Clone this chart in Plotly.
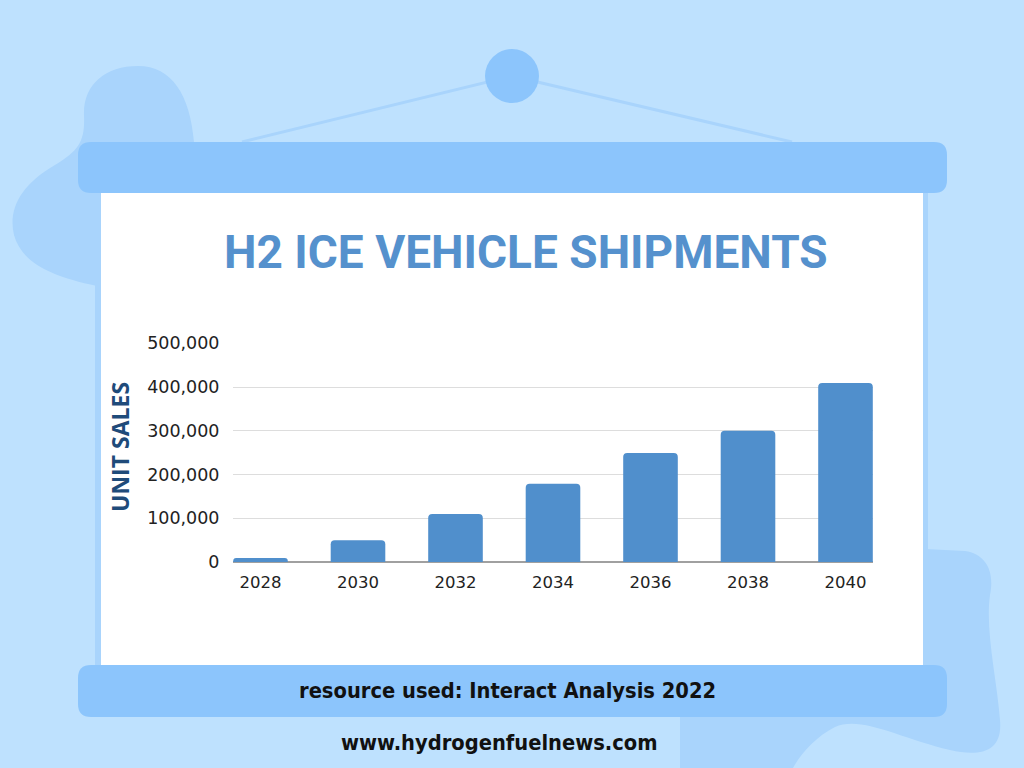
import plotly.graph_objects as go

# ---- data ----
years = ["2028", "2030", "2032", "2034", "2036", "2038", "2040"]
unit_sales = [9000, 50000, 110000, 179000, 249000, 300000, 409000]
y_ticks = [0, 100000, 200000, 300000, 400000, 500000]

title_text = "H2 ICE VEHICLE SHIPMENTS"
y_title = "UNIT SALES"
source_text = "resource used: Interact Analysis 2022"
site_text = "www.hydrogenfuelnews.com"

W, H = 1024, 768
BG = "#BEE1FE"
BLOB = "#A9D4FC"
BARBLUE = "#8CC5FC"
TITLE_C = "#5591CD"
BAR_C = "#508FCC"
YT_C = "#1F4B7A"


def px(x):
    return x / W


def py(y):
    return 1 - y / H


def P(x, y):
    return f"{px(x):.5f},{py(y):.5f}"


def rounded_rect(x0, y0, x1, y1, r):
    return (f"M {P(x0 + r, y0)} L {P(x1 - r, y0)} Q {P(x1, y0)} {P(x1, y0 + r)} "
            f"L {P(x1, y1 - r)} Q {P(x1, y1)} {P(x1 - r, y1)} "
            f"L {P(x0 + r, y1)} Q {P(x0, y1)} {P(x0, y1 - r)} "
            f"L {P(x0, y0 + r)} Q {P(x0, y0)} {P(x0 + r, y0)} Z")


shapes = []


def add_path(path, color):
    shapes.append(dict(type="path", xref="paper", yref="paper", path=path,
                       fillcolor=color, line=dict(width=0), layer="below"))


# left blob
left_blob = ("M " + P(138, 66) +
             " C " + P(105, 66) + " " + P(83, 85) + " " + P(84, 115) +
             " C " + P(85, 140) + " " + P(80, 150) + " " + P(55, 165) +
             " C " + P(20, 185) + " " + P(8, 210) + " " + P(14, 235) +
             " C " + P(22, 263) + " " + P(50, 276) + " " + P(97, 286) +
             " L " + P(200, 286) + " L " + P(194, 142) +
             " C " + P(190, 95) + " " + P(172, 66) + " " + P(138, 66) + " Z")
add_path(left_blob, BLOB)

# bottom-right blob
br_blob = ("M " + P(925, 549) + " L " + P(965, 551) +
           " C " + P(985, 554) + " " + P(995, 570) + " " + P(990, 595) +
           " C " + P(985, 630) + " " + P(997, 680) + " " + P(1000, 720) +
           " C " + P(1003, 752) + " " + P(980, 757) + " " + P(950, 750) +
           " C " + P(900, 738) + " " + P(860, 715) + " " + P(835, 727) +
           " C " + P(815, 737) + " " + P(800, 755) + " " + P(793, 768) +
           " L " + P(680, 768) + " L " + P(680, 700) + " L " + P(925, 700) + " Z")
add_path(br_blob, BLOB)

# hanging lines and circle
for (xa, ya) in [(242, 142), (792, 142)]:
    shapes.append(dict(type="line", xref="paper", yref="paper",
                       x0=px(512), y0=py(76), x1=px(xa), y1=py(ya),
                       line=dict(color=BLOB, width=3), layer="below"))
shapes.append(dict(type="circle", xref="paper", yref="paper",
                   x0=px(485), x1=px(539), y0=py(49), y1=py(103),
                   fillcolor=BARBLUE, line=dict(width=0), layer="below"))

# panel border strip and white panel
add_path(rounded_rect(95, 190, 928, 668, 0.01), BLOB)
add_path(rounded_rect(101, 190, 923, 668, 0.01), "#FFFFFF")

# top and bottom bars
add_path(rounded_rect(78, 142, 947, 193, 13), BARBLUE)
add_path(rounded_rect(78, 665, 947, 717, 13), BARBLUE)

fig = go.Figure()
fig.add_trace(go.Bar(
    x=years, y=unit_sales, width=0.56,
    marker=dict(color=BAR_C, cornerradius=4, line=dict(width=0)),
    hoverinfo="x+y",
))

NARROW = "Liberation Sans Narrow, DejaVu Sans Condensed, sans-serif"
annotations = [
    dict(text=f"<b>{title_text}</b>", x=px(526), y=py(252), xref="paper", yref="paper",
         showarrow=False, xanchor="center", yanchor="middle",
         font=dict(family="Roboto", size=46, color=TITLE_C)),
    dict(text=f"<b>{y_title}</b>", x=px(120), y=py(447), xref="paper", yref="paper",
         showarrow=False, xanchor="center", yanchor="middle", textangle=-90,
         font=dict(family="Open Sans", size=23, color=YT_C)),
    dict(text=f"<b>{source_text}</b>", x=px(507), y=py(690), xref="paper", yref="paper",
         showarrow=False, xanchor="center", yanchor="middle",
         font=dict(family=NARROW, size=21.7, color="#111111")),
    dict(text=f"<b>{site_text}</b>", x=px(499), y=py(742), xref="paper", yref="paper",
         showarrow=False, xanchor="center", yanchor="middle",
         font=dict(family=NARROW, size=21.7, color="#111111")),
]

fig.update_layout(
    width=W, height=H,
    autosize=False,
    margin=dict(l=0, r=0, t=0, b=0, pad=0),
    paper_bgcolor=BG,
    plot_bgcolor="rgba(0,0,0,0)",
    shapes=shapes,
    annotations=annotations,
    showlegend=False,
    xaxis=dict(
        domain=[px(233), px(873)],
        type="category",
        range=[-0.282, 6.282],
        automargin=False,
        showgrid=False,
        showline=False,
        zeroline=False,
        ticks="outside", ticklen=5, tickcolor="rgba(0,0,0,0)",
        tickfont=dict(family="DejaVu Sans", size=16.5, color="#222222"),
        fixedrange=True,
    ),
    yaxis=dict(
        domain=[py(562), py(343.3)],
        range=[0, 500000],
        tickvals=y_ticks,
        tickformat=",",
        automargin=False,
        showgrid=True, gridcolor="#DDDDDD", gridwidth=1,
        zeroline=True, zerolinecolor="#A0A0A0", zerolinewidth=1.5,
        showline=False,
        ticks="outside", ticklen=9, tickcolor="rgba(0,0,0,0)",
        tickfont=dict(family="DejaVu Sans", size=17.5, color="#222222"),
        fixedrange=True,
    ),
)

fig.write_html(
    "out.html",
    config={"responsive": False, "displayModeBar": False},
    post_script="document.body.style.margin='0px'; document.body.style.overflow='hidden';",
)
